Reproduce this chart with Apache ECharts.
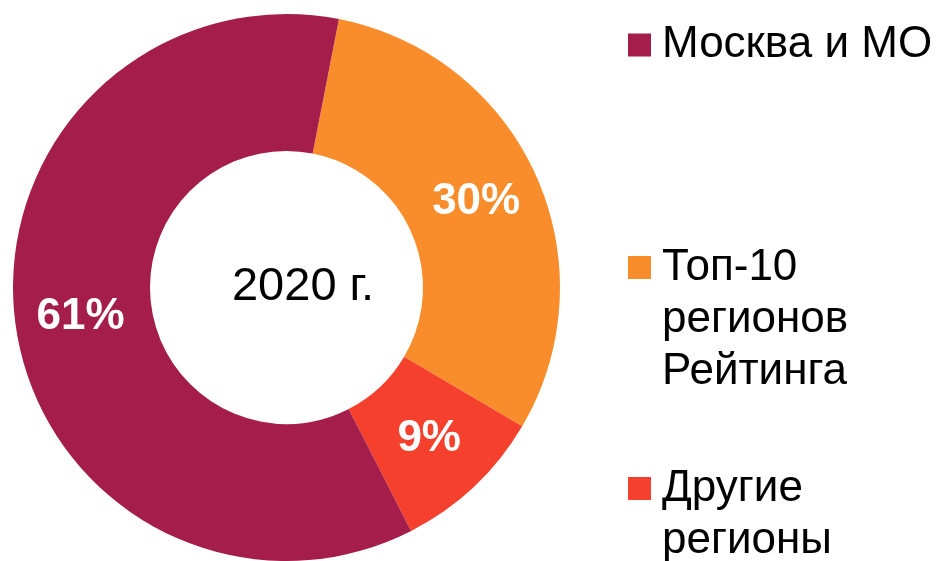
<!DOCTYPE html>
<html>
<head>
<meta charset="utf-8">
<script src="https://cdn.jsdelivr.net/npm/echarts@6/dist/echarts.min.js"></script>
<style>
html,body{margin:0;padding:0;background:#fff;}
#chart{width:943px;height:561px;}
</style>
</head>
<body>
<div id="chart"></div>
<script>
// Data
var categories = ['Топ-10 регионов Рейтинга', 'Другие регионы', 'Москва и МО'];
var shares = [30.4, 9.0, 60.6];
var colors = ['#F98D2B', '#F5402D', '#A51D4A'];
var legendOrder = ['Москва и МО', 'Топ-10 регионов Рейтинга', 'Другие регионы'];
var legendLines = [['Москва и МО'], ['Топ-10', 'регионов', 'Рейтинга'], ['Другие', 'регионы']];
var centerText = '2020 г.';

var FONT = 'Liberation Sans, Arial, sans-serif';
var LH = 52;
var iconCenters = [45, 267.5, 488.5];

var legends = legendOrder.map(function (name, i) {
  var n = legendLines[i].length;
  var half = (2 * n - 1) * LH / 2;
  var blank = [];
  for (var k = 0; k < n - 1; k++) blank.push(' ');
  return {
    data: [name],
    left: 628,
    top: iconCenters[i] - half,
    padding: 0,
    orient: 'vertical',
    icon: 'rect',
    itemWidth: 23,
    itemHeight: 23,
    selectedMode: false,
    formatter: function () { return blank.concat(legendLines[i]).join('\n'); },
    textStyle: {
      fontFamily: FONT,
      fontSize: 44,
      lineHeight: LH,
      color: '#000',
      padding: [0, 0, 0, 6]
    }
  };
});

var chart = echarts.init(document.getElementById('chart'), null, {renderer: 'canvas'});
chart.setOption({
  animation: false,
  color: colors,
  legend: legends,
  graphic: [{
    type: 'text',
    x: 303,
    y: 287,
    style: {
      text: centerText,
      fill: '#000',
      font: '47px ' + FONT,
      textAlign: 'center',
      textVerticalAlign: 'middle'
    }
  }],
  series: [{
    type: 'pie',
    center: [286.5, 287.5],
    radius: [136.5, 273.5],
    startAngle: 78.95,
    clockwise: true,
    avoidLabelOverlap: false,
    silent: true,
    label: {
      show: true,
      position: 'inside',
      color: '#fff',
      fontFamily: FONT,
      fontWeight: 'bold',
      fontSize: 44,
      formatter: function (p) { return Math.round(p.percent) + '%'; }
    },
    labelLine: {show: false},
    itemStyle: {borderWidth: 0},
    data: categories.map(function (c, i) { return {name: c, value: shares[i]}; })
  }]
});
</script>
</body>
</html>
